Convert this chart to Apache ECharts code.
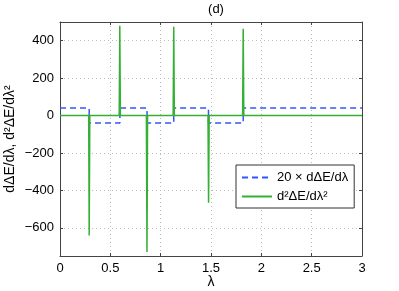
<!DOCTYPE html>
<html><head><meta charset="utf-8">
<script src="https://cdn.jsdelivr.net/npm/echarts@6/dist/echarts.min.js"></script>
<style>html,body{margin:0;padding:0;background:#fff}#c{width:399px;height:291px}</style>
</head><body><div id="c"></div>
<script>
// blue: 20 x dE/dlambda (step function)
const blueX = [0, 0.29, 0.29, 0.595, 0.595, 0.865, 0.865, 1.13, 1.13, 1.475, 1.475, 1.82, 1.82, 3];
const blueY = [40, 40, -40, -40, 40, 40, -40, -40, 40, 40, -40, -40, 40, 40];
// green: second derivative (spikes)
const greenX = [0, 0.285, 0.29, 0.296, 0.588, 0.594, 0.6, 0.858, 0.864, 0.87, 1.124, 1.13, 1.136, 1.47, 1.476, 1.482, 1.814, 1.82, 1.826, 3];
const greenY = [0, 0, -640, 0, 0, 480, 0, 0, -728, 0, 0, 474, 0, 0, -465, 0, 0, 464, 0, 0];
const yTicks = [-600, -400, -200, 0, 200, 400];
const xTicks = [0, 0.5, 1, 1.5, 2, 2.5, 3];
const seriesNames = ['20 × dΔE/dλ', 'd²ΔE/dλ²'];

const chart = echarts.init(document.getElementById('c'));
const font = 'Liberation Sans, Arial, sans-serif';
chart.setOption({
  animation: false,
  title: { text: '(d)', left: 211, top: -2, textAlign: 'center',
    textStyle: { fontFamily: font, fontWeight: 'normal', fontSize: 13, color: '#000' } },
  grid: { left: 60, right: 37, top: 22, bottom: 35, containLabel: false, outerBoundsMode: 'none' },
  legend: {
    orient: 'vertical', left: 236, top: 165, width: 115,
    data: seriesNames,
    borderColor: '#333', borderWidth: 1, backgroundColor: '#fff', borderRadius: 0,
    padding: [6, 6, 5, 5], itemGap: 6, itemWidth: 30, itemHeight: 10,
    itemStyle: { opacity: 0 },
    textStyle: { fontFamily: font, fontSize: 13, color: '#000' }
  },
  xAxis: [{
    type: 'value', min: 0, max: 3, interval: 0.5,
    name: 'λ', nameLocation: 'middle', nameGap: 19, nameMoveOverlap: false,
    nameTextStyle: { fontFamily: font, fontSize: 14, color: '#000' },
    axisLine: { show: true, onZero: false, lineStyle: { color: '#444', width: 1 } },
    axisTick: { show: true, inside: true, length: 3, lineStyle: { color: '#444' } },
    axisLabel: { fontFamily: font, fontSize: 13, color: '#000', margin: 6,
      formatter: v => String(v) },
    splitLine: { show: true, lineStyle: { color: '#bbb', type: [1, 3], width: 1 } }
  }, {
    type: 'value', min: 0, max: 3, interval: 0.5, position: 'top',
    axisLine: { show: true, onZero: false, lineStyle: { color: '#444', width: 1 } },
    axisTick: { show: true, inside: true, length: 3, lineStyle: { color: '#444' } },
    axisLabel: { show: false }, splitLine: { show: false }
  }],
  yAxis: [{
    type: 'value', min: -750, max: 500,
    name: 'dΔE/dλ, d²ΔE/dλ²', nameLocation: 'middle', nameGap: 43, nameRotate: 90,
    nameMoveOverlap: false,
    nameTextStyle: { fontFamily: font, fontSize: 14, color: '#000' },
    axisLine: { show: true, onZero: false, lineStyle: { color: '#444', width: 1 } },
    axisTick: { show: true, inside: true, length: 3, customValues: yTicks, lineStyle: { color: '#444' } },
    axisLabel: { fontFamily: font, fontSize: 13, color: '#000', margin: 6, customValues: yTicks,
      formatter: v => (v < 0 ? '\u2212' + Math.abs(v) : String(v)) },
    splitLine: { show: true, lineStyle: { color: '#bbb', type: [1, 3], width: 1 } }
  }, {
    type: 'value', min: -750, max: 500, position: 'right',
    axisLine: { show: true, onZero: false, lineStyle: { color: '#444', width: 1 } },
    axisTick: { show: true, inside: true, length: 3, customValues: yTicks, lineStyle: { color: '#444' } },
    axisLabel: { show: false, customValues: yTicks }, splitLine: { show: false }
  }],
  series: [{
    name: seriesNames[0], type: 'line', showSymbol: false, symbol: 'none',
    data: blueX.map((x, i) => [x, blueY[i]]),
    lineStyle: { color: '#3355ff', width: 1.5, type: [6, 4] },
    itemStyle: { color: '#3355ff' }, z: 2
  }, {
    name: seriesNames[1], type: 'line', showSymbol: false, symbol: 'none',
    data: greenX.map((x, i) => [x, greenY[i]]),
    lineStyle: { color: '#35b035', width: 1.5 },
    itemStyle: { color: '#35b035' }, z: 3
  }]
});
</script></body></html>
